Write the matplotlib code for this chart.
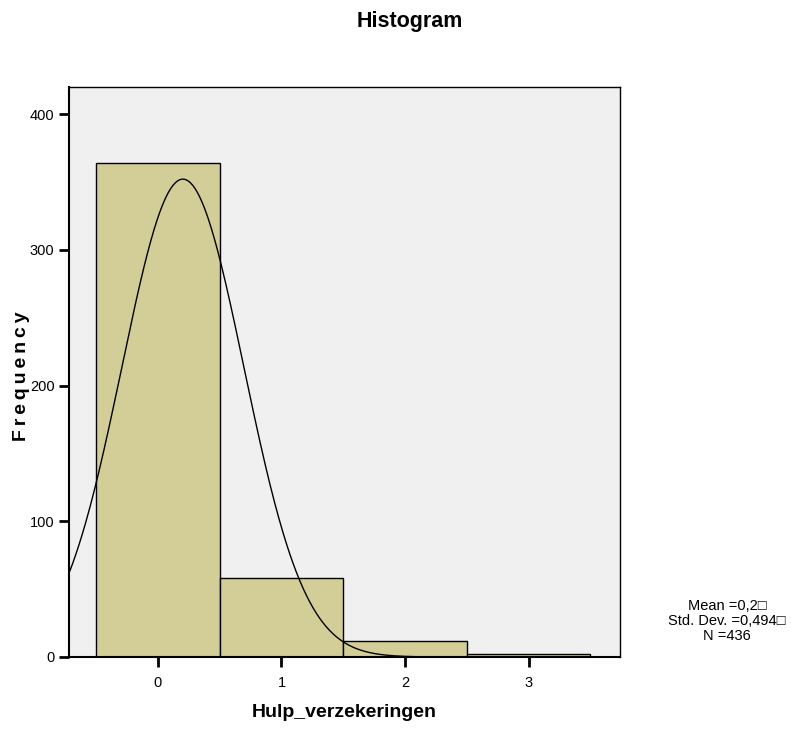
import numpy as np
import matplotlib
matplotlib.use("Agg")
import matplotlib.pyplot as plt

plt.rcParams['font.family'] = ['Liberation Sans', 'DejaVu Sans']

categories = [0, 1, 2, 3]
counts = [364, 58, 12, 2]
mean_val = 0.2018
std_val = 0.494
n_val = 436
stats_lines = ["Mean =0,2\u25a1", "Std. Dev. =0,494\u25a1", "N =436"]

fig = plt.figure(figsize=(7.91, 7.3), dpi=100)
ax = fig.add_axes([69/791, 1-657/730, (620-69)/791, (657-87)/730])
ax.set_facecolor('#f0f0f0')

ax.bar(categories, counts, width=1.0, color='#d3ce97', edgecolor='black', linewidth=1.0, zorder=2)

xmin, xmax = -0.72, 3.74
xs = np.linspace(xmin, xmax, 500)
ys = n_val * 1.0 / (std_val * np.sqrt(2*np.pi)) * np.exp(-0.5*((xs-mean_val)/std_val)**2)
ax.plot(xs, ys, color='black', linewidth=1.0, zorder=3)

ax.set_xlim(xmin, xmax)
ax.set_ylim(0, 420)
ax.set_xticks(categories)
ax.set_yticks([0, 100, 200, 300, 400])
ax.tick_params(axis='both', direction='out', length=7, width=2, labelsize=10.5, colors='black')
ax.tick_params(axis='x', pad=7)
for s in ax.spines.values():
    s.set_linewidth(1.0)
ax.spines['left'].set_linewidth(1.5)
ax.spines['bottom'].set_linewidth(1.5)

ax.set_xlabel('Hulp_verzekeringen', fontsize=14, fontweight='bold', labelpad=10)
ax.set_ylabel('\u2009'.join('Frequency'), fontsize=14, fontweight='bold')
ax.yaxis.set_label_coords((30-69)/551, (657-376)/570)
fig.text(410/791, 1-22/730, 'Histogram', ha='center', va='center', fontsize=15.5, fontweight='bold')

fig.text(727/791, 1-621/730, "\n".join(stats_lines), ha='center', va='center', fontsize=10.5, linespacing=1.05)

fig.savefig('out.png', dpi=100)
